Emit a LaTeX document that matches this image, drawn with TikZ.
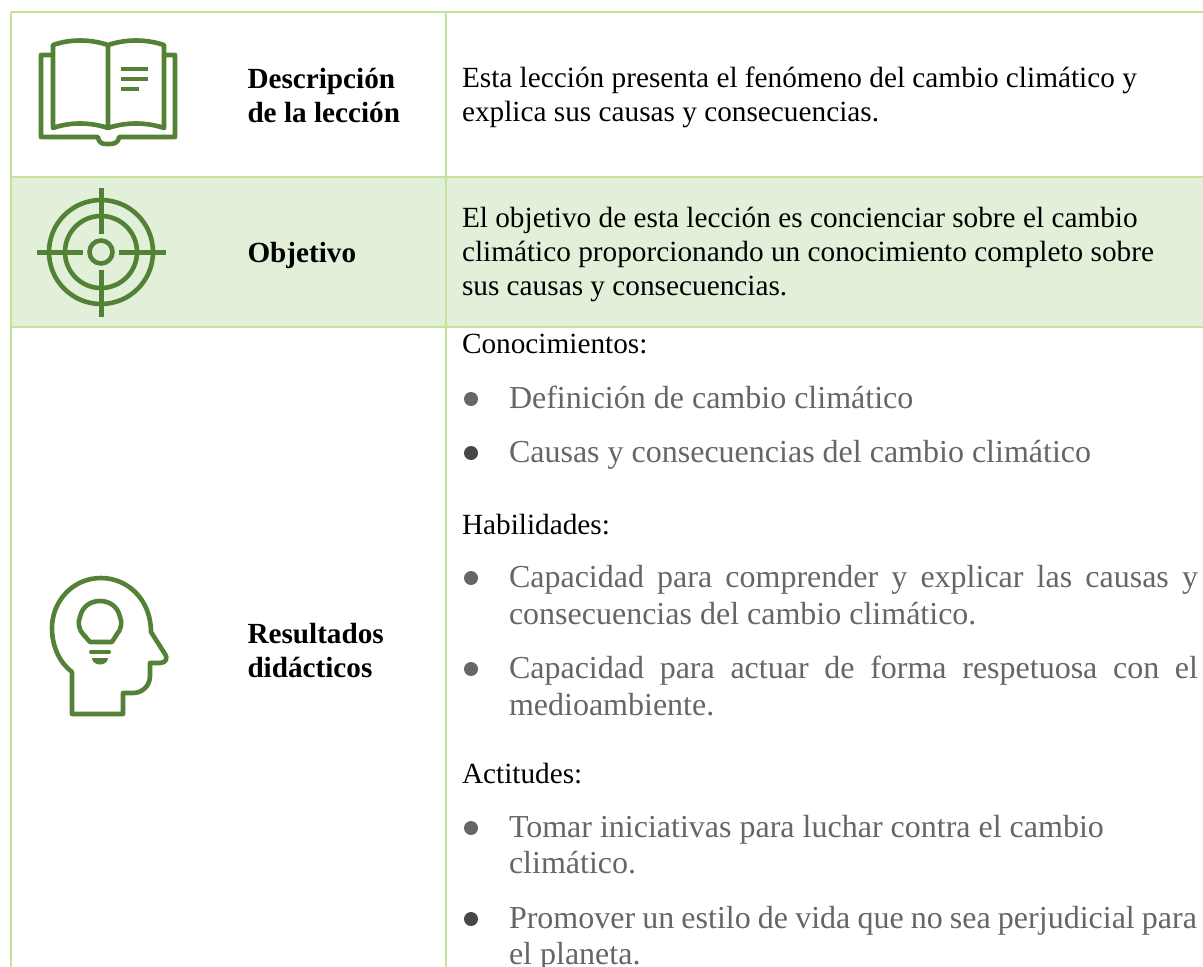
\documentclass[tikz,border=0pt]{standalone}
\usepackage{fontspec}
\setmainfont{Liberation Serif}
\definecolor{rule}{HTML}{C5E29B}
\definecolor{band}{HTML}{E2EFD9}
\definecolor{icon}{HTML}{538135}
\definecolor{bodygray}{HTML}{666666}
\newlength{\pxu}\setlength{\pxu}{0.75pt}
\tikzset{
  x=0.75pt,y=-0.75pt,
  gridline/.style={draw=rule,line width=2.2*0.75pt},
  ico/.style={draw=icon,line width=4.6*0.75pt,line join=round,fill=none},
  txt/.style={anchor=base west,inner sep=0pt,outer sep=0pt,font=\fontsize{21.96}{26}\selectfont},
  head/.style={txt,font=\fontsize{21.9}{26}\selectfont\bfseries},
  item/.style={txt,text=bodygray,font=\fontsize{24}{28}\selectfont},
  dotlight/.style={circle,fill=bodygray,inner sep=0pt,minimum size=10.5},
  dotdark/.style={circle,fill=black!72,inner sep=0pt,minimum size=10.5},
}
\newcommand{\just}[2]{\makebox[#1\pxu][s]{#2}}
\begin{document}
\begin{tikzpicture}
\useasboundingbox (0,0) rectangle (1203,967);
\clip (0,0) rectangle (1203,967);
\fill[white] (0,0) rectangle (1203,967);
\fill[band] (11,177) rectangle (1203,327);
\draw[gridline] (11,12) -- (1203,12);
\draw[gridline] (11,177) -- (1203,177);
\draw[gridline] (11,327) -- (1203,327);
\draw[gridline] (11,12) -- (11,967);
\draw[gridline] (446,12) -- (446,967);
% book icon
\draw[ico] (53,55) -- (41,55) -- (41,137) -- (98,137) .. controls (99,144) and (103,144) .. (108,144) .. controls (113,144) and (118,144) .. (119,137) -- (175,137) -- (175,55) -- (164,55);
\draw[ico] (108,45) .. controls (90,39) and (70,39) .. (53,45) -- (53,128) .. controls (70,122) and (90,122) .. (108,128) .. controls (126,122) and (146,122) .. (164,128) -- (164,45) .. controls (146,39) and (126,39) .. (108,45) -- (108,128);
\draw[ico] (121,69) -- (148,69) (121,79) -- (148,79) (121,89) -- (139,89);
% target icon
\draw[ico] (101,252) circle (52);
\draw[ico] (101,252) circle (36);
\draw[ico] (101,252) circle (11.5);
\draw[ico,line width=5*0.75pt] (101,188) -- (101,234) (101,270) -- (101,317) (37,252) -- (83,252) (119,252) -- (166,252);
% head icon
\draw[ico] (72,672) -- (72,714) -- (123,714) -- (123,693) -- (133,693) .. controls (142,693) and (150,686) .. (150,676) -- (150,663) -- (160,663) .. controls (166,663) and (168,658) .. (165,654) -- (151,632) .. controls (151,600) and (128,578) .. (101,578) .. controls (73,578) and (52,601) .. (52,628) .. controls (52,647) and (60,663) .. (72,672) -- cycle;
\draw[ico] (90,642) -- (112,642) -- (117,634) .. controls (122,628) and (122,622) .. (120,617) .. controls (118,607) and (110,601) .. (100,601) .. controls (90,601) and (82,607) .. (80,617) .. controls (78,622) and (78,628) .. (83,634) -- (90,642) -- cycle;
\draw[ico,line width=4*0.75pt,line cap=round] (91,652) -- (109,652);
\fill[icon] (92,658) -- (108,658) arc[start angle=0,end angle=180,x radius=8,y radius=6.5] -- cycle;
% labels
\node[head] (d1) at (247.5,88) {Descripción};
\node[head] (d2) at (247.5,122) {de la lección};
\node[head] (o1) at (247.5,262.5) {Objetivo};
\node[head] (r1) at (247.5,643) {Resultados};
\node[head] (r2) at (247.5,677) {didácticos};
% text
\node[txt] (a1) at (462,87) {Esta lección presenta el fenómeno del cambio climático y};
\node[txt] (a2) at (462,121) {explica sus causas y consecuencias.};
\node[txt] (b1) at (462,227.5) {El objetivo de esta lección es concienciar sobre el cambio};
\node[txt] (b2) at (462,261.5) {climático proporcionando un conocimiento completo sobre};
\node[txt] (b3) at (462,295) {sus causas y consecuencias.};
\node[txt] (c0) at (462,353) {Conocimientos:};
\node[dotlight] (c1d) at (471,399) {};
\node[item] (c1) at (509,408) {Definición de cambio climático};
\node[dotdark] (c2d) at (471,453) {};
\node[item] (c2) at (509,462) {Causas y consecuencias del cambio climático};
\node[txt] (h0) at (462,534) {Habilidades:};
\node[dotlight] (h1d) at (471,578) {};
\node[item] (h1) at (509,587) {\just{689}{Capacidad para comprender y explicar las causas y}};
\node[item] (h2) at (509,624) {consecuencias del cambio climático.};
\node[dotlight] (h3d) at (471,669) {};
\node[item] (h3) at (509,678) {\just{689}{Capacidad para actuar de forma respetuosa con el}};
\node[item] (h4) at (509,715) {medioambiente.};
\node[txt] (t0) at (462,783) {Actitudes:};
\node[dotlight] (t1d) at (471,828) {};
\node[item] (t1) at (509,837) {Tomar iniciativas para luchar contra el cambio};
\node[item] (t2) at (509,873) {climático.};
\node[dotdark] (t3d) at (471,919) {};
\node[item] (t3) at (509,928) {\just{688}{Promover un estilo de vida que no sea perjudicial para}};
\node[item] (t4) at (509,964) {el planeta.};
\end{tikzpicture}
\end{document}
